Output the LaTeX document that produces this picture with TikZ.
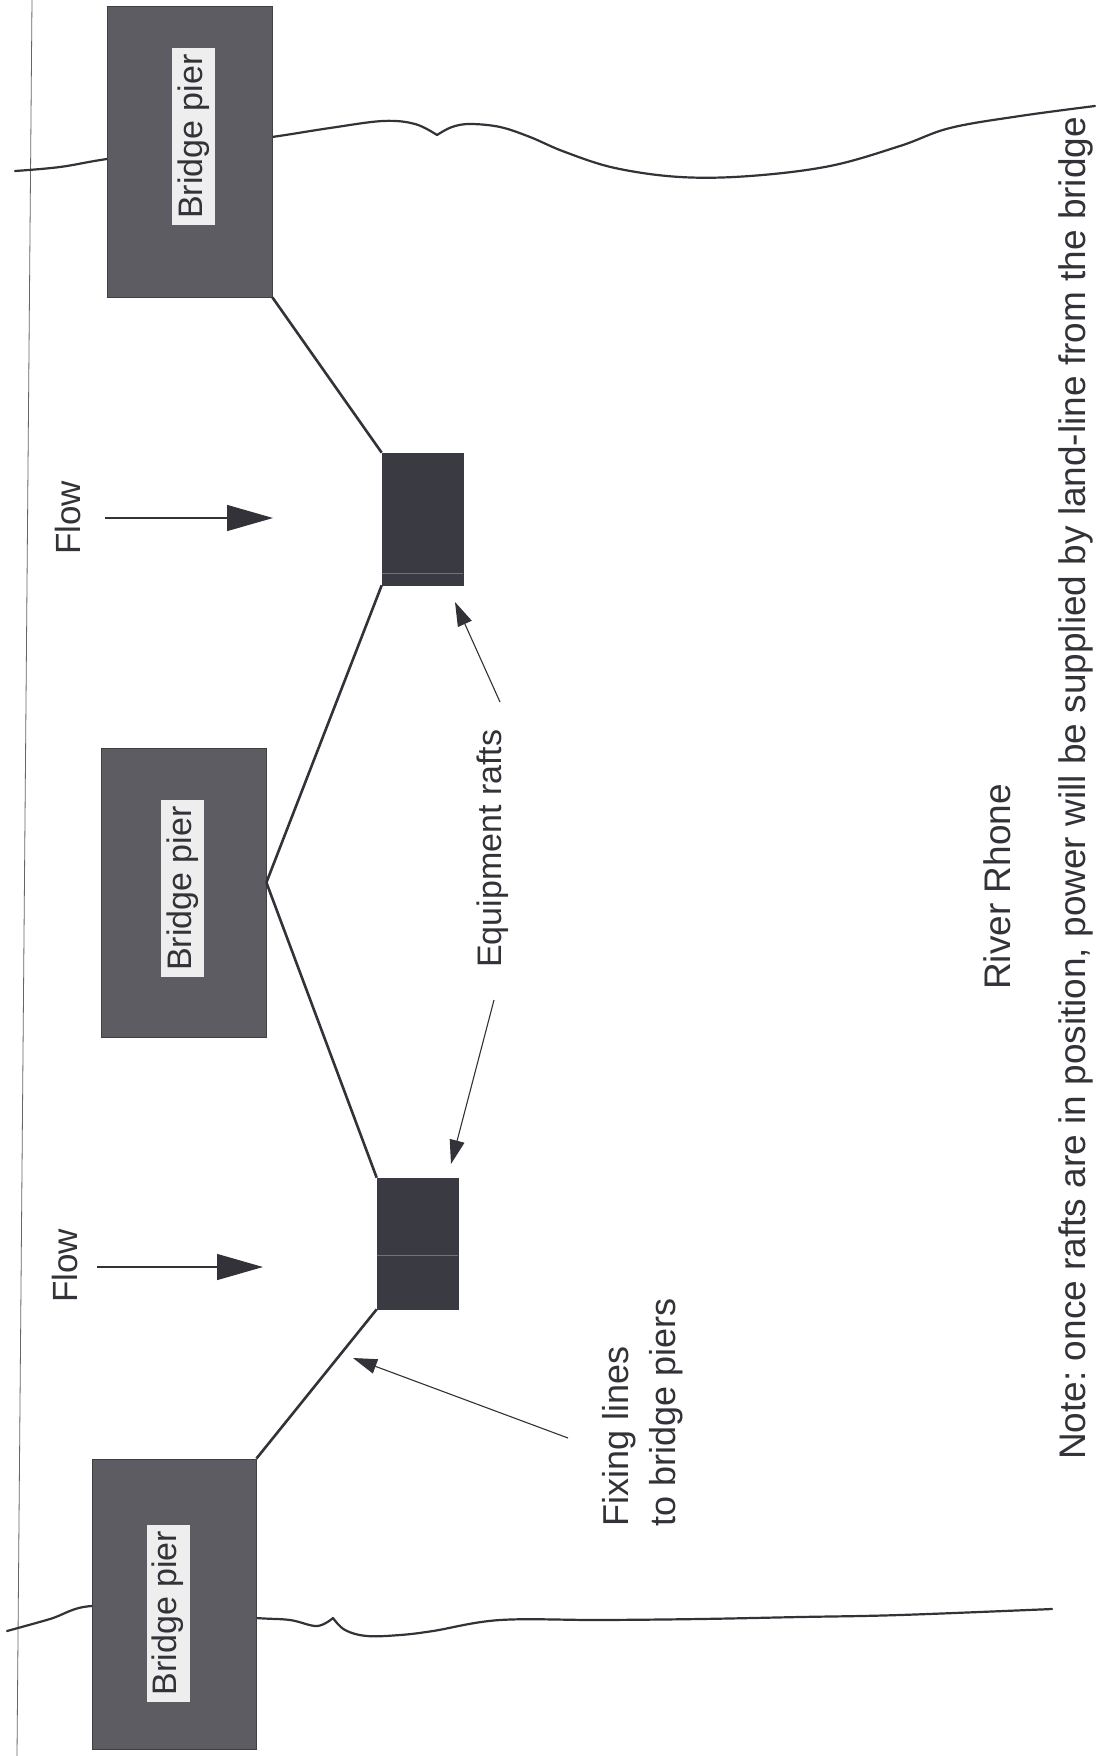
\documentclass[tikz,border=0pt]{standalone}
\usepackage{fontspec}
\setmainfont{Liberation Sans}
\usetikzlibrary{arrows.meta}
\definecolor{pierfill}{RGB}{92,92,98}
\definecolor{raftfill}{RGB}{58,58,66}
\definecolor{labelbg}{RGB}{238,238,238}
\definecolor{ink}{RGB}{50,50,56}
\frenchspacing
\begin{document}
\begin{tikzpicture}[x=1pt,y=1pt,
  pier/.style={draw=black!75, fill=pierfill, line width=0.8pt, inner sep=0pt},
  pierlabel/.style={fill=labelbg, text=ink, rotate=90, inner sep=0pt,
    font=\fontsize{34}{40}\selectfont, minimum width=177pt, minimum height=43pt},
  raft/.style={fill=raftfill, draw=raftfill, line width=0.6pt, inner sep=0pt},
  raftline/.style={draw=black!55, line width=0.6pt},
  shore/.style={line width=2.2pt, draw=ink, line cap=round, line join=round},
  fixline/.style={line width=2.6pt, draw=ink},
  pointer/.style={line width=1.1pt, draw=ink, -{Triangle[length=24pt,width=15pt]}},
  flowarrow/.style={line width=1.4pt, draw=ink, -{Triangle[length=46pt,width=26pt]}},
  lbl/.style={rotate=90, anchor=base west, inner sep=0pt, text=ink}
]
\useasboundingbox (0,0) rectangle (1114,-1756);
\fill[white] (0,0) rectangle (1114,-1756);

% left page line
\draw[black!60, line width=0.8pt] (32,0) -- (17,-1756);

% river banks
\draw[shore] plot[smooth, tension=0.6] coordinates {(15,-171) (60,-167) (107,-159) (190,-148) (272,-137) (330,-128) (383,-121) (415,-124) (437,-135)};
\draw[shore] plot[smooth, tension=0.6] coordinates {(437,-135) (452,-127) (470,-124) (500,-127) (530,-137) (565,-152) (615,-168) (680,-177) (750,-176) (830,-166) (900,-146) (950,-128) (1020,-116) (1095,-106)};
\draw[shore] plot[smooth, tension=0.6] coordinates {(7,-1631) (50,-1619) (92,-1606) (170,-1612) (256,-1618) (290,-1620) (317,-1626) (333,-1618)};
\draw[shore] plot[smooth, tension=0.6] coordinates {(333,-1618) (345,-1630) (367,-1636) (400,-1635) (433,-1631) (500,-1620) (600,-1620) (700,-1619) (800,-1617) (900,-1615) (1052,-1609)};

% bridge piers
\node[pier, minimum width=165pt, minimum height=291pt] (pier1) at (189.5,-151.5) {};
\node[pier, minimum width=165pt, minimum height=289pt] (pier2) at (183.5,-892.5) {};
\node[pier, minimum width=164pt, minimum height=290pt] (pier3) at (174,-1604) {};
\node[pierlabel] (lab1) at (193.5,-136.5) {Bridge pier};
\node[pierlabel] (lab2) at (182.5,-888.5) {Bridge pier};
\node[pierlabel] (lab3) at (168,-1613) {Bridge pier};

% equipment rafts
\node[raft, minimum width=81pt, minimum height=132pt] (raft1) at (422.5,-519) {};
\node[raft, minimum width=81pt, minimum height=131pt] (raft2) at (417.5,-1243.5) {};
\draw[raftline] ([yshift=12pt]raft1.south west) -- ([yshift=12pt]raft1.south east);
\draw[raftline] ([yshift=54pt]raft2.south west) -- ([yshift=54pt]raft2.south east);

% fixing lines
\draw[fixline] (pier1.south east) -- (raft1.north west);
\draw[fixline] (raft1.south west) -- ([yshift=10pt]pier2.east);
\draw[fixline] ([yshift=10pt]pier2.east) -- (raft2.north west);
\draw[fixline] (raft2.south west) -- (pier3.north east);

% flow arrows
\coordinate (f1s) at (105,-518);
\coordinate (f1e) at (273,-518);
\coordinate (f2s) at (97,-1267);
\coordinate (f2e) at (263,-1267);
\draw[flowarrow] (f1s) -- (f1e);
\draw[flowarrow] (f2s) -- (f2e);
\node[lbl, font=\fontsize{35}{42}\selectfont] (flow1) at (80,-555) {Flow};
\node[lbl, font=\fontsize{35}{42}\selectfont] (flow2) at (77,-1303) {Flow};

% equipment rafts label and pointers
\node[lbl, font=\fontsize{34}{40}\selectfont] (equip) at (501,-968) {Equipment rafts};
\coordinate (eqa) at (500,-702);
\coordinate (eqat) at (455,-602);
\coordinate (eqb) at (494,-1000);
\coordinate (eqbt) at (451,-1164);
\draw[pointer] (eqa) -- (eqat);
\draw[pointer] (eqb) -- (eqbt);

% fixing lines label and pointer
\node[lbl, font=\fontsize{36}{44}\selectfont] (fix1) at (628,-1527) {Fixing lines};
\node[lbl, font=\fontsize{36}{44}\selectfont] (fix2) at (675,-1527) {to bridge piers};
\coordinate (fxs) at (568,-1438);
\coordinate (fxt) at (353,-1358);
\draw[pointer] (fxs) -- (fxt);

% river name and note
\node[lbl, font=\fontsize{37}{44}\selectfont] (river) at (1010,-990) {River Rhone};
\node[lbl, font=\fontsize{37}{44}\selectfont] (note) at (1085,-1460) {Note: once rafts are in position, power will be supplied by land-line from the bridge};
\end{tikzpicture}
\end{document}
